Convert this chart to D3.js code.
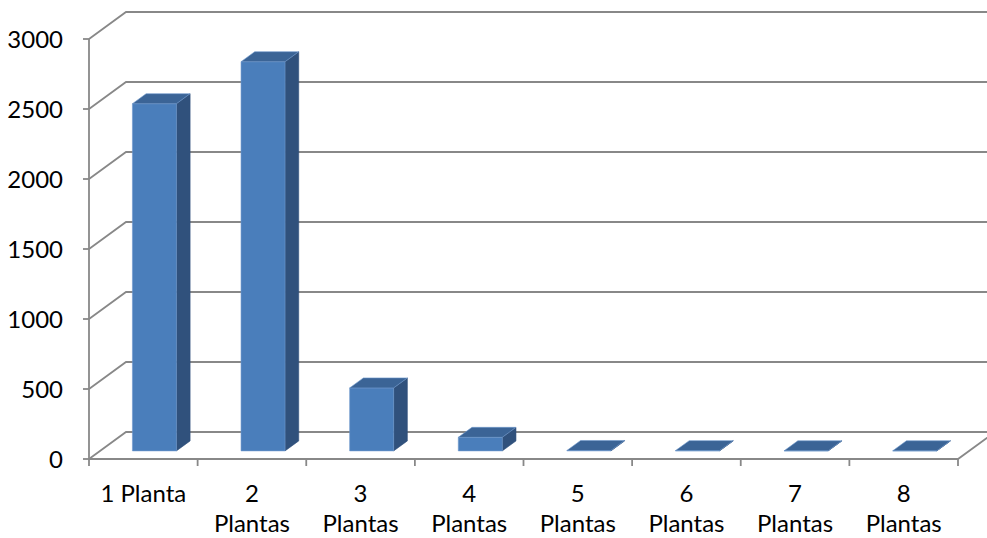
<!DOCTYPE html>
<html>
<head>
<meta charset="utf-8">
<script src="https://cdn.jsdelivr.net/npm/d3@7"></script>
<style>
  html, body { margin: 0; padding: 0; background: #ffffff; }
  svg { display: block; }
  text { font-family: Lato, "Open Sans", sans-serif; fill: #000; }
</style>
</head>
<body>
<svg id="chart" width="987" height="538"></svg>
<script>
// Number of plants per plot and how many plots had that count
const categories = ["1 Planta", "2 Plantas", "3 Plantas", "4 Plantas",
                    "5 Plantas", "6 Plantas", "7 Plantas", "8 Plantas"];
const values = [2480, 2780, 450, 97, 3, 2, 1, 1];
const yTicks = [0, 500, 1000, 1500, 2000, 2500, 3000];

const W = 987, H = 538;
const svg = d3.select("#chart");

// Front plane of the 3-D box
const x = d3.scaleBand().domain(categories).range([89, 958]);
const y = d3.scaleLinear().domain([0, 3000]).range([459, 39]);

// Depth of the box: the back wall is shifted right and up
const depthX = 37, depthY = -27;
// Bars sit between these fractions of the depth
const barFront = 0.3, barBack = 0.67;
const barHalf = 22;

const proj = (px, v, f) => [px + depthX * f, y(v) + depthY * f];
const pt = p => p.join(",");

svg.append("defs").append("clipPath").attr("id", "plot-clip")
  .append("rect").attr("x", 0).attr("y", 0).attr("width", W).attr("height", H);

const grid = svg.append("g").attr("clip-path", "url(#plot-clip)");
const lineColor = "#888888";
const lineWidth = 1.8;

// Back wall gridlines and the slanted side-wall lines
yTicks.forEach(t => {
  const a = proj(x.range()[0], t, 0), b = proj(x.range()[0], t, 1), c = proj(x.range()[1], t, 1);
  grid.append("polyline")
    .attr("points", [a, b, c].map(pt).join(" "))
    .attr("fill", "none").attr("stroke", lineColor).attr("stroke-width", lineWidth);
});

// Floor: front edge and right edge
{
  const a = proj(x.range()[0], 0, 0), b = proj(x.range()[1], 0, 0), c = proj(x.range()[1], 0, 1);
  grid.append("polyline")
    .attr("points", [a, b, c].map(pt).join(" "))
    .attr("fill", "none").attr("stroke", lineColor).attr("stroke-width", lineWidth);
}

// Vertical axis line
svg.append("line")
  .attr("x1", x.range()[0]).attr("x2", x.range()[0])
  .attr("y1", y(3000)).attr("y2", y(0))
  .attr("stroke", lineColor).attr("stroke-width", lineWidth);

// Y ticks and labels
yTicks.forEach(t => {
  svg.append("line")
    .attr("x1", x.range()[0] - 6).attr("x2", x.range()[0])
    .attr("y1", y(t)).attr("y2", y(t))
    .attr("stroke", lineColor).attr("stroke-width", lineWidth);
  svg.append("text")
    .attr("x", 63).attr("y", y(t)).attr("dy", "0.36em")
    .attr("text-anchor", "end")
    .style("font-size", "24px")
    .text(t);
});

// Category ticks
const bounds = categories.map(c => x(c)).concat([x.range()[1]]);
bounds.forEach(bx => {
  svg.append("line")
    .attr("x1", bx).attr("x2", bx)
    .attr("y1", y(0)).attr("y2", y(0) + 7)
    .attr("stroke", lineColor).attr("stroke-width", lineWidth);
});

// Bars drawn as boxes: front, top and right faces
const colFront = "#4a7ebb", colTop = "#3b6496", colSide = "#30517c", colEdge = "#6f98cc";
const bars = svg.append("g");
categories.forEach((c, i) => {
  const v = values[i];
  const cx = x(c) + x.bandwidth() / 2;
  const l = cx - barHalf, r = cx + barHalf;
  const fBL = proj(l, 0, barFront), fBR = proj(r, 0, barFront);
  const fTL = proj(l, v, barFront), fTR = proj(r, v, barFront);
  const bBR = proj(r, 0, barBack), bTL = proj(l, v, barBack), bTR = proj(r, v, barBack);
  const g = bars.append("g").attr("stroke-linejoin", "round");
  // right side
  g.append("polygon").attr("points", [fBR, fTR, bTR, bBR].map(pt).join(" "))
    .attr("fill", colSide).attr("stroke", colSide).attr("stroke-width", 0.6);
  // front
  g.append("polygon").attr("points", [fBL, fBR, fTR, fTL].map(pt).join(" "))
    .attr("fill", colFront).attr("stroke", colEdge).attr("stroke-width", 0.6);
  // top
  g.append("polygon").attr("points", [fTL, fTR, bTR, bTL].map(pt).join(" "))
    .attr("fill", colTop).attr("stroke", colEdge).attr("stroke-width", 0.6);
});

// Category labels, wrapped onto two lines when too wide
categories.forEach(c => {
  const cx = x(c) + x.bandwidth() / 2;
  const t = svg.append("text")
    .attr("x", cx).attr("y", 502)
    .attr("text-anchor", "middle")
    .style("font-size", "24px")
    .text(c);
  if (t.node().getComputedTextLength() > 90) {
    const words = c.split(" ");
    t.text(null);
    words.forEach((w, k) => {
      t.append("tspan").attr("x", cx).attr("y", 502 + k * 30).text(w);
    });
  }
});
</script>
</body>
</html>
